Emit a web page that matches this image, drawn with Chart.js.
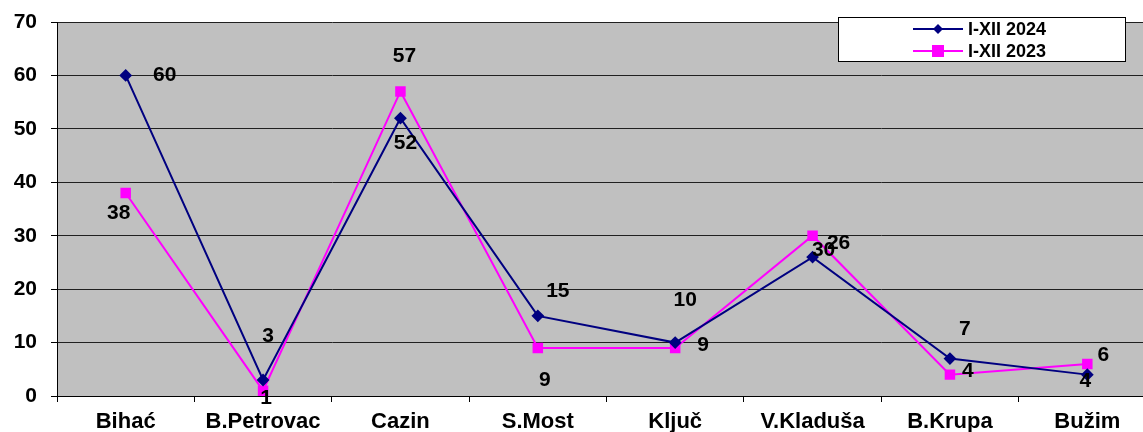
<!DOCTYPE html>
<html>
<head>
<meta charset="utf-8">
<script src="https://cdn.jsdelivr.net/npm/chart.js@4"></script>
<style>
  html, body { margin: 0; padding: 0; background: #fff; overflow: hidden; }
  #wrap { width: 1164px; height: 432px; }
</style>
</head>
<body>
<div id="wrap"><canvas id="myChart" width="1164" height="432"></canvas></div>
<script>
const categories = ['Bihać', 'B.Petrovac', 'Cazin', 'S.Most', 'Ključ', 'V.Kladuša', 'B.Krupa', 'Bužim'];
const values2024 = [60, 3, 52, 15, 10, 26, 7, 4];
const values2023 = [38, 1, 57, 9, 9, 30, 4, 6];
const seriesNames = ['I-XII 2024', 'I-XII 2023'];
const yTicks = [0, 10, 20, 30, 40, 50, 60, 70];

// where each value label sits relative to its point (px)
const labelOffsets2024 = [[39, 0], [5, -44], [5, 25], [20, -25], [10, -42], [26, -14], [15, -29], [-2, 7]];
const labelOffsets2023 = [[-7, 20], [3, 8], [4, -35], [7, 32], [28, -3], [11, 14], [18, -3], [16, -9]];

const FONT = '"Liberation Sans", Arial, sans-serif';

const plotBg = {
    id: 'plotBg',
    beforeDraw(chart) {
        const { ctx, chartArea } = chart;
        ctx.save();
        ctx.fillStyle = '#c0c0c0';
        ctx.fillRect(chartArea.left, chartArea.top, chartArea.right - chartArea.left, chartArea.bottom - chartArea.top);
        ctx.restore();
    }
};

const valueLabels = {
    id: 'valueLabels',
    afterDatasetsDraw(chart) {
        const ctx = chart.ctx;
        const offsets = [labelOffsets2024, labelOffsets2023];
        ctx.save();
        ctx.font = 'bold 21px ' + FONT;
        ctx.fillStyle = '#000';
        ctx.textAlign = 'center';
        ctx.textBaseline = 'middle';
        chart.data.datasets.forEach((ds, i) => {
            chart.getDatasetMeta(i).data.forEach((pt, j) => {
                ctx.fillText(String(ds.data[j]), pt.x + offsets[i][j][0], pt.y + offsets[i][j][1]);
            });
        });
        ctx.restore();
    }
};

const boxLegend = {
    id: 'boxLegend',
    afterDraw(chart) {
        const ctx = chart.ctx;
        const x = 838, y = 17, w = 287, h = 44;
        ctx.save();
        ctx.fillStyle = '#fff';
        ctx.fillRect(x, y, w, h);
        ctx.strokeStyle = '#000';
        ctx.lineWidth = 1;
        ctx.strokeRect(x + 0.5, y + 0.5, w, h);
        ctx.font = 'bold 18px ' + FONT;
        ctx.textBaseline = 'middle';
        chart.data.datasets.forEach((ds, i) => {
            const cy = y + 12 + i * 22;
            ctx.strokeStyle = ds.borderColor;
            ctx.lineWidth = 2;
            ctx.beginPath();
            ctx.moveTo(913, cy);
            ctx.lineTo(963, cy);
            ctx.stroke();
            ctx.fillStyle = ds.pointBackgroundColor;
            if (i === 0) {
                ctx.beginPath();
                ctx.moveTo(938, cy - 5);
                ctx.lineTo(943, cy);
                ctx.lineTo(938, cy + 5);
                ctx.lineTo(933, cy);
                ctx.closePath();
                ctx.fill();
            } else {
                ctx.fillRect(932, cy - 6, 12, 12);
            }
            ctx.fillStyle = '#000';
            ctx.fillText(ds.label, 968, cy + 1);
        });
        ctx.restore();
    }
};

const config = {
    type: 'line',
    data: {
        labels: categories,
        datasets: [
            {
                label: seriesNames[0],
                data: values2024,
                borderColor: '#000080',
                backgroundColor: '#000080',
                pointBackgroundColor: '#000080',
                pointBorderColor: '#000080',
                borderWidth: 2,
                pointStyle: 'rectRot',
                pointRadius: 5,
                tension: 0
            },
            {
                label: seriesNames[1],
                data: values2023,
                borderColor: '#ff00ff',
                backgroundColor: '#ff00ff',
                pointBackgroundColor: '#ff00ff',
                pointBorderColor: '#ff00ff',
                borderWidth: 2,
                pointStyle: 'rect',
                pointRadius: 6,
                tension: 0
            }
        ]
    },
    options: {
        responsive: false,
        animation: false,
        layout: { padding: { top: 22, left: 0, right: 0, bottom: 0 } },
        plugins: {
            legend: { display: false },
            tooltip: { enabled: false }
        },
        scales: {
            x: {
                offset: true,
                grid: {
                    offset: true,
                    drawOnChartArea: false,
                    drawTicks: true,
                    tickLength: 6,
                    color: '#000'
                },
                border: { color: '#000', width: 1 },
                ticks: {
                    color: '#000',
                    padding: 7,
                    maxRotation: 0,
                    autoSkip: false,
                    font: { family: FONT, size: 22, weight: 'bold' }
                },
                afterFit(scale) { scale.height = 36; }
            },
            y: {
                min: 0,
                max: 70,
                afterBuildTicks(scale) { scale.ticks = yTicks.map(v => ({ value: v })); },
                grid: {
                    color: '#202020',
                    tickLength: 6,
                    tickColor: '#000'
                },
                border: { color: '#000', width: 1 },
                ticks: {
                    color: '#000',
                    padding: 14,
                    font: { family: FONT, size: 21, weight: 'bold' }
                },
                afterFit(scale) {
                    scale.width = 57;
                    scale.paddingTop = 0;
                    scale.paddingBottom = 0;
                }
            }
        }
    },
    plugins: [plotBg, valueLabels, boxLegend]
};

const myChart = new Chart(document.getElementById('myChart'), config);
</script>
</body>
</html>
